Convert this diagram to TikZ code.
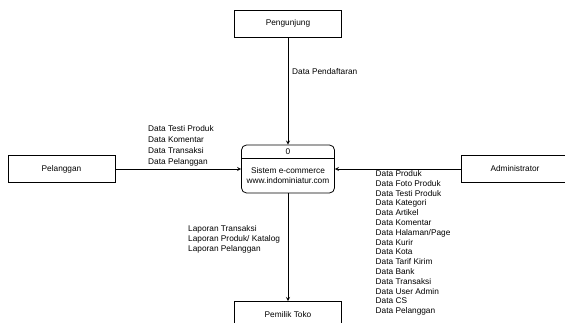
\documentclass[tikz,border=0pt]{standalone}
\usepackage{fontspec}
\setmainfont{Liberation Sans}
\usetikzlibrary{positioning}
\tikzstyle{extbox} = [rectangle, minimum width=107pt, minimum height=27pt, text centered, draw=black, line width=0.8pt]
\tikzstyle{procbox} = [rectangle, rounded corners=5pt, minimum width=93pt, minimum height=48pt, draw=black, line width=0.8pt]
\tikzstyle{flowlabel} = [align=left, inner sep=0pt, anchor=west]
\tikzstyle{line} = [line width=0.8pt, -]
\tikzstyle{arrow} = [line width=0.8pt, ->, >=stealth]

\begin{document}
\begin{tikzpicture}[x=1pt, y=-1pt, font=\fontsize{8.3}{10}\selectfont]
        \useasboundingbox (0,0) rectangle (565,323);
        \clip (0,0) rectangle (565,323);

        \node[extbox] (pengunjung) at (288,23.5) {Pengunjung};
        \node[extbox] (pelanggan) at (61.5,169) {Pelanggan};
        \node[extbox] (admin) at (515,169) {Administrator};
        \node[extbox] (pemilik) at (288,315) {Pemilik Toko};

        \node[procbox] (proc) at (288,169) {};
        \node (procid) at (288,151.5) {0};
        \node[align=center] (procname) at (288,175.5) {Sistem e-commerce\\www.indominiatur.com};
        \coordinate (divy) at (0,158);
        \draw[line] (proc.west |- divy) -- (proc.east |- divy);

        \draw[arrow] (pengunjung) -- (proc);
        \draw[arrow] (pelanggan) -- (proc);
        \draw[arrow] (admin) -- (proc);
        \draw[arrow] (proc) -- (pemilik);

        \node[flowlabel] (lblpendaftaran) at (292,72) {Data Pendaftaran};
        \node[flowlabel, font=\fontsize{8.3}{11}\selectfont] (lblpelanggan) at (148,145.5)
            {Data Testi Produk\\Data Komentar\\Data Transaksi\\Data Pelanggan};
        \node[flowlabel, font=\fontsize{8.3}{9.8}\selectfont] (lbladmin) at (375.5,243)
            {Data Produk\\Data Foto Produk\\Data Testi Produk\\Data Kategori\\Data Artikel\\Data Komentar\\Data Halaman/Page\\Data Kurir\\Data Kota\\Data Tarif Kirim\\Data Bank\\Data Transaksi\\Data User Admin\\Data CS\\Data Pelanggan};
        \node[flowlabel] (lbllaporan) at (188,239)
            {Laporan Transaksi\\Laporan Produk/ Katalog\\Laporan Pelanggan};

    \end{tikzpicture}
\end{document}
